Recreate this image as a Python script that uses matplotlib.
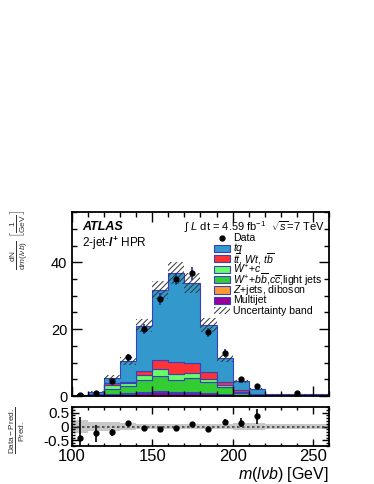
import numpy as np
import matplotlib
matplotlib.use("Agg")
import matplotlib.pyplot as plt
from matplotlib.patches import Rectangle
from matplotlib.ticker import MultipleLocator

plt.rcParams['font.family'] = ['Liberation Sans', 'DejaVu Sans']
plt.rcParams['mathtext.fontset'] = 'custom'
plt.rcParams['mathtext.rm'] = 'Liberation Sans'
plt.rcParams['mathtext.it'] = 'Liberation Sans:italic'
plt.rcParams['mathtext.bf'] = 'Liberation Sans:bold'
plt.rcParams['mathtext.bfit'] = 'Liberation Sans:bold:italic'
plt.rcParams['hatch.linewidth'] = 0.7

################################################################################
# Data, values per GeV

edges = [100, 110, 120, 130, 140, 150, 160, 170, 180, 190, 200, 210, 220, 260]

multijet = [0.01, 0.10, 0.45, 0.60, 0.90, 1.30, 1.00, 1.00, 0.80, 0.50, 0.30, 0.10, 0.02]
zjets    = [0.01, 0.05, 0.15, 0.30, 0.30, 0.30, 0.20, 0.20, 0.20, 0.10, 0.10, 0.10, 0.01]
wbb      = [0.04, 0.25, 1.40, 2.10, 3.60, 4.50, 3.60, 4.30, 3.30, 2.00, 0.50, 0.20, 0.07]
wc       = [0.02, 0.10, 1.30, 0.80, 1.50, 2.00, 1.70, 1.30, 0.70, 0.80, 0.40, 0.20, 0.05]
ttbar    = [0.02, 0.10, 0.60, 0.50, 1.30, 2.70, 3.60, 3.20, 2.10, 0.70, 0.50, 0.10, 0.05]
tq       = [0.30, 0.65, 1.60, 6.20, 13.4, 20.9, 26.7, 23.8, 14.1, 7.20, 2.60, 1.50, 0.30]
unc      = [0.10, 0.20, 0.80, 1.20, 2.00, 2.80, 3.20, 3.00, 2.00, 1.10, 0.50, 0.25, 0.05]

data_x = [105, 115, 125, 135, 145, 155, 165, 175, 185, 195, 205, 215, 240]
data_y = [0.3, 1.0, 4.4, 11.6, 20.1, 29.0, 35.0, 36.7, 19.0, 12.8, 5.1, 3.0, 0.8]
data_err = [0.17, 0.32, 0.66, 1.08, 1.42, 1.70, 1.87, 1.92, 1.38, 1.13, 0.71, 0.55, 0.14]

ratio_x = [105, 115, 125, 135, 145, 155, 165, 175, 185, 195, 205, 215]
ratio_y = [-0.41, -0.24, -0.21, 0.11, -0.05, -0.10, -0.05, 0.08, -0.10, 0.17, 0.14, 0.36]
ratio_err = [0.75, 0.30, 0.12, 0.08, 0.06, 0.05, 0.05, 0.05, 0.07, 0.10, 0.15, 0.27]

################################################################################
# Plot

fig = plt.figure(figsize=(3.74, 4.84), dpi=100)
ax = fig.add_axes([0.1925, 0.1818, 0.687, 0.380])
axr = fig.add_axes([0.1925, 0.0785, 0.687, 0.0806])

edge_col = '#3a3fc0'
components = [
    (multijet, '#990099', 'Multijet'),
    (zjets, '#ff9933', r'$Z$+jets, diboson'),
    (wbb, '#33cc33', r'$W^{+}$+$b\overline{b}$,$c\overline{c}$,light jets'),
    (wc, '#66ff66', r'$W^{+}$+$c$'),
    (ttbar, '#ff3333', r'$t\overline{t}$, $Wt$, $t\overline{b}$'),
    (tq, '#3399cc', r'$tq$'),
]

# Stacked histogram
base = np.zeros(len(tq))
for vals, col, lab in components:
    top = base + np.array(vals)
    ax.stairs(top, edges, baseline=base, fill=True, facecolor=col,
              edgecolor=edge_col, linewidth=0.8)
    base = top
total = base

# Uncertainty band
ax.stairs(total + np.array(unc), edges, baseline=total - np.array(unc), fill=True,
          facecolor='none', edgecolor='#333333', linewidth=0, hatch='//////')

# Data
ax.errorbar(data_x, data_y, yerr=data_err, fmt='o', color='black', ms=3.5,
            ecolor='#2030a0', elinewidth=1.2, capsize=0, zorder=5)

ax.set_xlim(100, 260)
ax.set_ylim(0, 55)
ax.xaxis.set_major_locator(MultipleLocator(50))
ax.xaxis.set_minor_locator(MultipleLocator(10))
ax.yaxis.set_major_locator(MultipleLocator(20))
ax.yaxis.set_minor_locator(MultipleLocator(5))
ax.tick_params(which='both', direction='in', top=True, right=True, labelsize=10.5)
ax.tick_params(which='major', length=7, width=1)
ax.tick_params(which='minor', length=3.5, width=1)
ax.tick_params(axis='x', labelbottom=False)
for s in ax.spines.values():
    s.set_linewidth(1.3)

ax.set_ylabel(r'$\frac{\mathrm{dN}}{\mathrm{d}m(l\nu b)}$ $\left[\frac{1}{\mathrm{GeV}}\right]$',
              loc='top', fontsize=8.5, color='#333333')
ax.yaxis.set_label_coords(-0.165, 1.01)

# Labels
ax.text(0.04, 0.92, 'ATLAS', transform=ax.transAxes, fontsize=9,
        fontweight='bold', fontstyle='italic', va='center')
ax.text(0.04, 0.83, r'2-jet-$\mathbfit{l}^{\mathbf{+}}$ HPR', transform=ax.transAxes,
        fontsize=8.5, va='center')
ax.text(0.985, 0.92, r'$\int$ $L$ dt = 4.59 fb$^{-1}$  $\sqrt{s}$=7 TeV',
        transform=ax.transAxes, fontsize=8, ha='right', va='center')

# Legend, drawn entry by entry to keep ROOT-like row pitch
leg_labels = ['Data'] + [c[2] for c in components[::-1]] + ['Uncertainty band']
leg_colors = [None] + [c[1] for c in components[::-1]] + ['hatch']
x0, x1, xt = 0.553, 0.615, 0.626
y_first, pitch, box_h = 0.859, 0.0565, 0.04
for i, (lab, col) in enumerate(zip(leg_labels, leg_colors)):
    y = y_first - i * pitch
    if col is None:
        ax.plot([(x0 + x1) / 2], [y], 'o', color='black', ms=3.5,
                transform=ax.transAxes, clip_on=False)
    elif col == 'hatch':
        ax.add_patch(Rectangle((x0, y - box_h / 2), x1 - x0, box_h, transform=ax.transAxes,
                               facecolor='none', edgecolor='#333333', linewidth=0,
                               hatch='//////'))
    else:
        ax.add_patch(Rectangle((x0, y - box_h / 2), x1 - x0, box_h, transform=ax.transAxes,
                               facecolor=col, edgecolor=edge_col, linewidth=0.8))
    ax.text(xt, y, lab, transform=ax.transAxes, fontsize=7.6, va='center', ha='left')

# Ratio panel
rel = np.array(unc) / total
axr.stairs(rel, edges, baseline=-rel, fill=True, facecolor='#bbbbbb',
           edgecolor='none', alpha=0.8)
axr.axhline(0, color='#444444', ls=(0, (1.5, 1.5)), lw=1.2)
axr.errorbar(ratio_x, ratio_y, yerr=ratio_err, fmt='o', color='black', ms=3.5,
             elinewidth=1.2, capsize=0, zorder=5)
axr.set_xlim(100, 260)
axr.set_ylim(-0.7, 0.7)
axr.set_yticks([-0.5, 0, 0.5])
axr.set_yticklabels(['-0.5', '0', '0.5'])
axr.xaxis.set_major_locator(MultipleLocator(50))
axr.xaxis.set_minor_locator(MultipleLocator(10))
axr.yaxis.set_minor_locator(MultipleLocator(0.1))
axr.tick_params(which='both', direction='in', top=True, right=True)
axr.tick_params(axis='x', labelsize=12, pad=2)
axr.tick_params(axis='y', labelsize=11, pad=2)
axr.tick_params(which='major', length=5, width=1)
axr.tick_params(which='minor', length=2.5, width=1)
for s in axr.spines.values():
    s.set_linewidth(1.3)
axr.set_xlabel(r'$m(l\nu b)$ [GeV]', loc='right', fontsize=11.5, labelpad=1)
axr.set_ylabel(r'$\frac{\mathrm{Data-Pred.}}{\mathrm{Pred.}}$', fontsize=8.5, color='#333333')
axr.yaxis.set_label_coords(-0.175, 0.4)

fig.savefig('out.png', dpi=100)
